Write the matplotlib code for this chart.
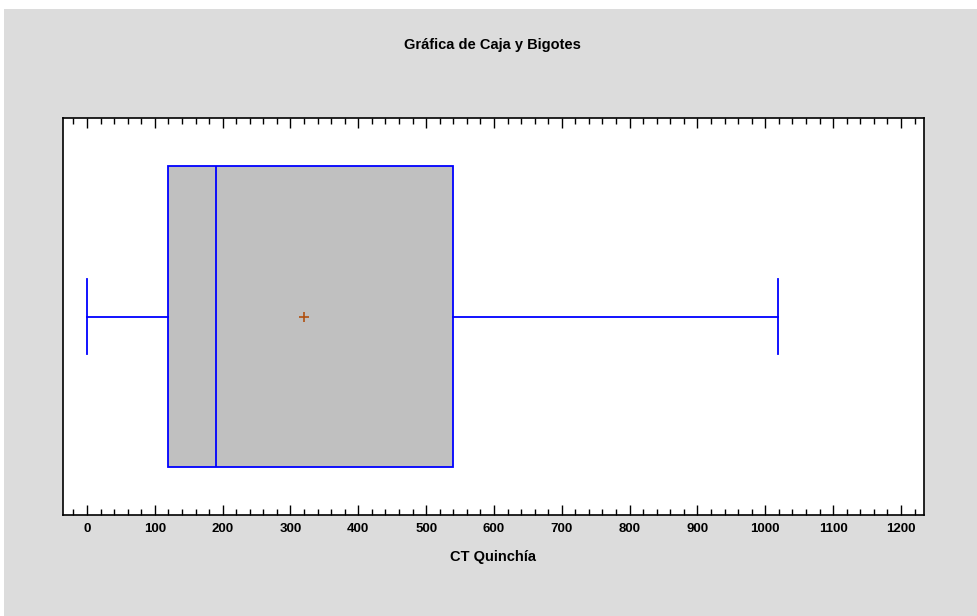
import matplotlib
matplotlib.use("Agg")
import matplotlib.pyplot as plt
from matplotlib.patches import Rectangle
from matplotlib.ticker import MultipleLocator

# Data
label = "CT Quinchía"
whisker_low = 0
q1 = 119
median = 190
q3 = 540
whisker_high = 1019
mean = 320
xticks = [0, 100, 200, 300, 400, 500, 600, 700, 800, 900, 1000, 1100, 1200]

W, H = 977, 616
fig = plt.figure(figsize=(W / 100, H / 100), dpi=100)
fig.patch.set_facecolor("white")
fig.patches.append(Rectangle((4 / W, 0), 1 - 4 / W, (H - 9) / H, transform=fig.transFigure,
                             facecolor="#dcdcdc", edgecolor="none", zorder=-10))

ax = fig.add_axes([63 / W, (H - 515) / H, (924 - 63) / W, (515 - 118) / H])
ax.set_facecolor("white")

stats = [dict(whislo=whisker_low, q1=q1, med=median, q3=q3, whishi=whisker_high,
              mean=mean, fliers=[], label=label)]
blue = "#0000ff"
ax.bxp(stats, positions=[0.5], widths=0.756, vert=False, patch_artist=True,
       showmeans=True, showfliers=False, capwidths=0.19,
       boxprops=dict(facecolor="#c0c0c0", edgecolor=blue, linewidth=1.3),
       medianprops=dict(color=blue, linewidth=1.3),
       whiskerprops=dict(color=blue, linewidth=1.3),
       capprops=dict(color=blue, linewidth=1.3),
       meanprops=dict(marker="+", markeredgecolor="#b05010", markersize=7, markeredgewidth=1.2))

ax.set_ylim(0, 1)
ax.set_xlim(-35.4, 1234)
ax.set_yticks([])
ax.set_xticks(xticks)
ax.set_xticklabels([str(t) for t in xticks])
ax.xaxis.set_minor_locator(MultipleLocator(20))
ax.tick_params(axis="x", which="major", direction="in", length=7, width=1, top=True, bottom=True,
               labelsize=9.5, pad=6)
ax.tick_params(axis="x", which="minor", direction="in", length=4, width=1, top=True, bottom=True)
for lbl in ax.get_xticklabels():
    lbl.set_fontweight("bold")
    lbl.set_family("Liberation Sans")
for s in ax.spines.values():
    s.set_linewidth(1.2)
    s.set_color("black")

fig.text(492 / W, 1 - 45 / H, "Gráfica de Caja y Bigotes", ha="center", va="center",
         fontsize=10.5, fontweight="bold", family="Liberation Sans")
fig.text(493 / W, 1 - 557 / H, label, ha="center", va="center",
         fontsize=10.5, fontweight="bold", family="Liberation Sans")

fig.savefig("out.png", dpi=100, facecolor=fig.get_facecolor())
